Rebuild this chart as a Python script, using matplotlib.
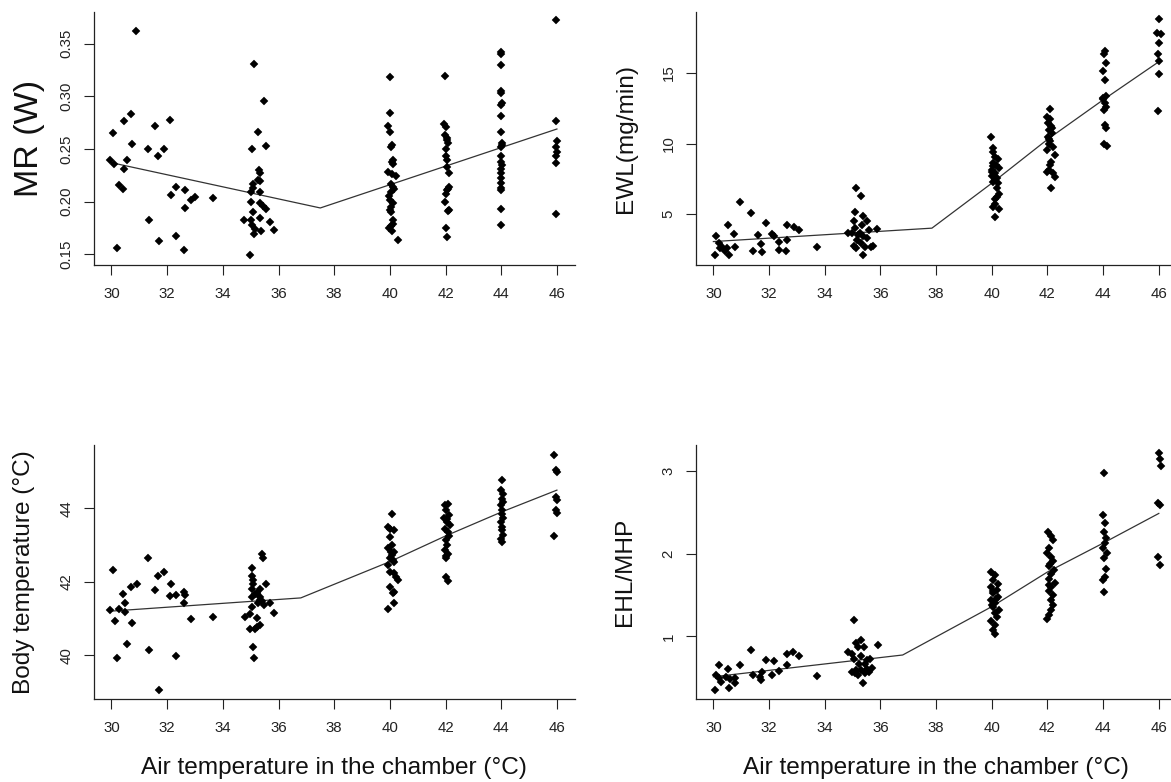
import matplotlib
matplotlib.use('Agg')
import matplotlib.pyplot as plt

plt.rcParams['font.family'] = ['Liberation Sans', 'DejaVu Sans']

# ---- data (x = air temperature in chamber, degC) ----
# metabolic rate
mr_x = [30.89, 30.05, 30.69, 30.46, 30.73, 30.55, 29.96, 30.1, 30.46, 30.26, 30.4, 30.19, 31.3, 31.57,
        31.66, 31.87, 32.1, 31.34, 31.7, 32.14, 32.31, 32.64, 32.63, 32.31, 32.6, 32.84, 32.99, 33.65,
        35.12, 35.48, 35.25, 35.56, 35.04, 34.98, 35.29, 35.32, 35.26, 35.35, 35.1, 35.08, 35.32, 35.0,
        35.01, 35.32, 35.46, 35.55, 35.1, 34.76, 35.0, 35.35, 35.7, 35.04, 35.16, 35.11, 35.37, 35.85,
        40.0, 40.0, 39.95, 40.0, 40.07, 40.04, 40.07, 40.13, 39.95, 40.07, 40.23, 40.04, 40.11, 40.15,
        40.04, 40.01, 40.11, 40.04, 40.04, 40.1, 40.13, 39.98, 40.07, 40.28, 40.1, 39.98, 40.0, 40.05,
        41.99, 41.95, 42.01, 41.99, 42.05, 42.07, 42.02, 42.02, 42.05, 42.05, 42.14, 42.11, 42.05, 42.01,
        41.99, 42.13, 42.07, 42.02, 42.05, 42.05, 42.1,
        43.98, 43.99, 44.0, 43.99, 44.0, 43.99, 43.99, 44.0, 44.01, 44.0, 43.99, 44.0, 44.01, 43.99,
        44.0, 43.98, 43.99, 44.0, 43.99, 43.99, 43.98, 44.03, 44.03,
        45.97, 45.97, 46.0, 45.97, 46.0, 45.97, 45.97, 45.97]
mr_y = [0.362, 0.265, 0.283, 0.277, 0.255, 0.240, 0.240, 0.236, 0.231, 0.216, 0.212, 0.156, 0.250, 0.272,
        0.243, 0.250, 0.278, 0.183, 0.163, 0.206, 0.214, 0.211, 0.194, 0.167, 0.154, 0.202, 0.204, 0.203,
        0.331, 0.296, 0.266, 0.253, 0.250, 0.149, 0.230, 0.227, 0.221, 0.220, 0.217, 0.213, 0.209, 0.209,
        0.200, 0.199, 0.196, 0.193, 0.190, 0.183, 0.183, 0.184, 0.181, 0.178, 0.174, 0.169, 0.172, 0.173,
        0.318, 0.284, 0.272, 0.266, 0.254, 0.252, 0.238, 0.236, 0.228, 0.226, 0.224, 0.217, 0.214, 0.212,
        0.209, 0.202, 0.199, 0.195, 0.190, 0.183, 0.179, 0.175, 0.172, 0.164, 0.240, 0.205, 0.192, 0.177,
        0.319, 0.274, 0.271, 0.263, 0.260, 0.256, 0.250, 0.243, 0.240, 0.233, 0.227, 0.214, 0.211, 0.207,
        0.200, 0.192, 0.191, 0.175, 0.166, 0.2585, 0.212,
        0.342, 0.340, 0.330, 0.305, 0.303, 0.292, 0.281, 0.266, 0.254, 0.252, 0.243, 0.238, 0.235, 0.231,
        0.227, 0.222, 0.218, 0.213, 0.211, 0.193, 0.178, 0.294, 0.2555,
        0.373, 0.277, 0.258, 0.252, 0.2475, 0.243, 0.237, 0.188]
mr_fit_x = [30, 37.5, 46]
mr_fit_y = [0.237, 0.194, 0.269]

# evaporative water loss
ewl_x = [30.05, 30.09, 30.19, 30.23, 30.32, 30.41, 30.49, 30.56, 30.52, 30.76, 30.75, 30.96, 31.36, 31.41,
         31.61, 31.75, 31.72, 31.9, 32.12, 32.16, 32.35, 32.37, 32.62, 32.66, 32.66, 32.9, 33.06, 33.72,
         35.12, 35.3, 35.08, 35.06, 35.39, 35.52, 35.35, 35.08, 34.83, 34.99, 35.19, 35.39, 35.59, 35.88,
         35.16, 35.3, 35.52, 35.06, 35.12, 35.46, 35.72, 35.39, 35.26, 35.66,
         39.97, 40.06, 40.03, 40.13, 40.23, 40.06, 40.15, 40.26, 40.02, 40.13, 40.0, 40.19, 40.06, 40.23,
         40.17, 40.26, 40.19, 40.1, 40.13, 40.03, 40.26, 40.1, 40.0, 40.1, 40.05,
         42.1, 42.0, 42.1, 42.02, 42.13, 42.06, 42.16, 42.02, 42.1, 42.06, 42.2, 42.0, 42.26, 42.13,
         42.1, 42.06, 42.2, 42.26, 42.13, 42.05, 42.15, 42.0,
         44.06, 44.04, 44.1, 44.0, 44.06, 44.1, 44.0, 44.06, 44.04, 44.06, 44.1, 44.04, 44.13, 44.0, 44.1,
         46.0, 45.93, 46.07, 46.0, 45.97, 46.02, 46.0, 45.97]
ewl_y = [2.12, 3.47, 2.95, 2.59, 2.67, 2.43, 2.59, 2.12, 4.25, 2.71, 3.58, 5.87, 5.07, 2.43,
         3.54, 2.31, 2.90, 4.41, 3.61, 3.47, 2.48, 3.07, 2.43, 3.18, 4.22, 4.13, 3.89, 2.67,
         6.84, 6.30, 5.19, 4.53, 4.91, 4.55, 4.22, 4.01, 3.70, 3.66, 3.54, 3.47, 3.89, 3.94,
         3.18, 3.00, 3.30, 2.76, 2.59, 2.67, 2.76, 2.12, 3.66, 2.71,
         10.50, 9.72, 9.43, 9.08, 8.89, 8.66, 8.49, 8.26, 8.14, 7.90, 7.71, 7.55, 7.31, 7.24,
         6.84, 6.44, 6.25, 6.06, 5.73, 5.50, 5.35, 4.83, 8.0, 7.4, 8.4,
         12.43, 11.91, 11.72, 11.49, 11.25, 10.97, 10.73, 10.50, 10.21, 9.98, 9.74, 9.55, 9.20, 8.73,
         8.49, 8.14, 7.90, 7.67, 6.84, 10.35, 11.1, 8.0,
         16.58, 16.34, 15.68, 15.14, 14.50, 13.37, 13.14, 12.85, 12.38, 11.32, 11.13, 9.98, 9.86, 13.2, 12.6,
         18.80, 17.85, 17.76, 17.15, 16.34, 15.87, 14.93, 12.33]
ewl_fit_x = [30, 37.85, 40, 42, 44, 46]
ewl_fit_y = [3.07, 4.02, 7.2, 10.3, 13.1, 15.8]

# body temperature
tb_x = [29.96, 30.07, 30.11, 30.2, 30.27, 30.41, 30.47, 30.47, 30.55, 30.69, 30.73, 30.91, 31.31, 31.34,
        31.56, 31.66, 31.72, 31.87, 32.1, 32.14, 32.31, 32.31, 32.6, 32.6, 32.64, 32.87, 33.65,
        34.78, 35.05, 35.05, 35.08, 35.1, 35.05, 35.14, 35.05, 35.21, 35.32, 35.39, 35.46, 35.56, 35.35,
        35.39, 35.25, 35.48, 35.04, 35.7, 35.85, 34.98, 35.21, 35.32, 34.97, 35.14, 35.08, 35.12, 35.35, 35.21,
        40.08, 39.95, 40.15, 40.02, 40.08, 39.95, 40.15, 40.08, 40.02, 40.15, 39.95, 40.02, 40.15, 40.22,
        40.29, 40.02, 40.15, 40.15, 39.95, 40.05, 40.1, 40.0, 40.1,
        42.09, 41.98, 42.02, 42.12, 41.95, 42.05, 42.16, 41.98, 42.09, 42.12, 42.02, 42.05, 41.98, 42.09,
        42.02, 42.02, 42.09, 42.05, 42.0,
        44.04, 43.98, 44.08, 44.01, 44.08, 43.98, 44.04, 44.01, 44.08, 43.98, 44.04, 44.01, 44.08, 43.98, 44.01,
        45.9, 45.97, 46.01, 45.97, 46.01, 45.97, 46.01, 45.9]
tb_y = [41.23, 42.32, 40.93, 39.91, 41.25, 41.66, 41.41, 41.18, 40.29, 41.85, 40.88, 41.94, 42.64, 40.15,
        41.77, 42.16, 39.05, 42.27, 41.61, 41.94, 41.64, 39.98, 41.73, 41.41, 41.64, 40.98, 41.05,
        41.03, 42.38, 42.15, 42.05, 41.95, 41.79, 41.68, 41.59, 41.7, 41.79, 42.75, 42.64, 41.95, 41.59,
        41.48, 41.41, 41.36, 41.32, 41.43, 41.14, 41.11, 41.0, 40.82, 40.71, 40.71, 40.23, 39.91, 41.5, 40.77,
        43.86, 43.5, 43.41, 43.23, 43.0, 42.91, 42.82, 42.73, 42.64, 42.55, 42.45, 42.27, 42.23, 42.14,
        42.06, 41.86, 41.73, 41.43, 41.25, 42.8, 42.6, 43.45, 41.7,
        44.12, 44.09, 43.95, 43.82, 43.73, 43.64, 43.55, 43.45, 43.36, 43.25, 43.14, 43.0, 42.86, 42.77,
        42.64, 42.14, 42.03, 43.7, 42.7,
        44.77, 44.5, 44.39, 44.27, 44.18, 44.09, 43.97, 43.86, 43.75, 43.64, 43.5, 43.41, 43.27, 43.18, 43.09,
        45.47, 45.06, 45.0, 44.32, 44.23, 43.95, 43.88, 43.25]
tb_fit_x = [30, 36.8, 40, 42, 44, 46]
tb_fit_y = [41.2, 41.56, 42.55, 43.25, 43.9, 44.5]

# evaporative heat loss / metabolic heat production
ehl_x = [30.05, 30.09, 30.21, 30.19, 30.28, 30.45, 30.52, 30.55, 30.59, 30.79, 30.76, 30.96, 31.36, 31.41,
         31.68, 31.72, 31.75, 31.9, 32.12, 32.16, 32.35, 32.63, 32.66, 32.86, 33.06, 33.72,
         35.06, 34.82, 35.3, 35.12, 35.19, 35.42, 35.9, 34.99, 35.32, 35.06, 35.52, 35.62, 35.22, 35.44,
         34.99, 35.12, 35.32, 35.52, 35.7, 35.19, 35.44, 35.39, 35.08, 35.59,
         39.99, 40.13, 40.06, 40.23, 39.99, 40.17, 40.06, 40.23, 39.99, 40.13, 40.06, 40.26, 40.1, 40.19,
         39.99, 40.13, 40.03, 40.1, 40.05, 40.15, 40.0,
         42.02, 42.13, 42.2, 42.06, 42.0, 42.13, 42.2, 42.06, 42.24, 42.13, 42.06, 42.26, 42.13, 42.06,
         42.2, 42.13, 42.2, 42.13, 42.06, 42.0, 42.1, 42.05,
         44.04, 44.0, 44.06, 44.04, 44.1, 44.06, 44.0, 44.13, 44.04, 44.1, 44.06, 44.0, 44.04,
         46.0, 46.03, 46.07, 45.96, 46.03, 45.96, 46.03]
ehl_y = [0.35, 0.53, 0.65, 0.49, 0.45, 0.51, 0.61, 0.37, 0.48, 0.50, 0.43, 0.65, 0.83, 0.53,
         0.51, 0.47, 0.57, 0.71, 0.53, 0.70, 0.58, 0.65, 0.79, 0.81, 0.76, 0.52,
         1.20, 0.81, 0.96, 0.92, 0.87, 0.87, 0.90, 0.79, 0.76, 0.73, 0.71, 0.73, 0.67, 0.67,
         0.57, 0.59, 0.59, 0.61, 0.62, 0.53, 0.55, 0.44, 0.55, 0.57,
         1.78, 1.74, 1.68, 1.63, 1.60, 1.56, 1.52, 1.48, 1.44, 1.40, 1.36, 1.32, 1.28, 1.24,
         1.18, 1.14, 1.08, 1.03, 1.55, 1.45, 1.38,
         2.27, 2.22, 2.17, 2.07, 2.01, 1.96, 1.91, 1.85, 1.80, 1.76, 1.70, 1.65, 1.60, 1.55,
         1.50, 1.44, 1.38, 1.32, 1.26, 1.21, 1.88, 1.62,
         2.98, 2.47, 2.37, 2.27, 2.19, 2.13, 2.07, 2.01, 1.95, 1.82, 1.72, 1.68, 1.54,
         3.22, 3.15, 3.06, 2.62, 2.59, 1.96, 1.86]
ehl_fit_x = [30, 36.8, 40, 42, 44, 46]
ehl_fit_y = [0.51, 0.774, 1.36, 1.78, 2.13, 2.49]

x_ticks = [30, 32, 34, 36, 38, 40, 42, 44, 46]
xlim = (29.36, 46.64)
xlabel = 'Air temperature in the chamber (°C)'


def draw_panel(ax, x, y, fit_x, fit_y, yticks, ytick_labels, ylim, ylabel, ylabel_size, ylabel_x):
    ax.plot(x, y, linestyle='none', marker='D', markersize=4.1, color='black',
            markeredgewidth=0.3, markeredgecolor='black', zorder=3)
    ax.plot(fit_x, fit_y, color='#333333', linewidth=0.9, zorder=2)

    ax.set_xlim(*xlim)
    ax.set_ylim(*ylim)
    ax.set_xticks(x_ticks)
    ax.set_yticks(yticks)
    ax.set_yticklabels(ytick_labels)

    # R style: just the left and bottom axis lines
    for side in ('top', 'right'):
        ax.spines[side].set_visible(False)
    for side in ('left', 'bottom'):
        ax.spines[side].set_linewidth(0.9)
        ax.spines[side].set_color('#222222')

    ax.tick_params(axis='both', direction='out', length=7.5, width=0.8, color='#222222',
                   labelsize=10.8, labelcolor='#222222')
    ax.tick_params(axis='x', pad=8.5)
    ax.tick_params(axis='y', pad=7)
    for lab in ax.get_yticklabels():
        lab.set_rotation(90)
        lab.set_va('center')

    ax.set_ylabel(ylabel, fontsize=ylabel_size, color='#111111')
    ax.yaxis.set_label_coords(ylabel_x, 0.5)


fig = plt.figure(figsize=(11.71, 7.82), dpi=100)

ax_w = 0.4108
ax1 = fig.add_axes([0.0800, 0.6611, ax_w, 0.3239])
ax2 = fig.add_axes([0.5940, 0.6611, ax_w, 0.3239])
ax3 = fig.add_axes([0.0800, 0.1065, ax_w, 0.3244])
ax4 = fig.add_axes([0.5940, 0.1065, ax_w, 0.3244])

draw_panel(ax1, mr_x, mr_y, mr_fit_x, mr_fit_y,
           [0.15, 0.20, 0.25, 0.30, 0.35], ['0.15', '0.20', '0.25', '0.30', '0.35'],
           (0.1398, 0.3804), 'MR (W)', 24.5, -0.102)
draw_panel(ax2, ewl_x, ewl_y, ewl_fit_x, ewl_fit_y,
           [5, 10, 15], ['5', '10', '15'],
           (1.41, 19.34), 'EWL(mg/min)', 17.6, -0.122)
draw_panel(ax3, tb_x, tb_y, tb_fit_x, tb_fit_y,
           [40, 42, 44], ['40', '42', '44'],
           (38.81, 45.73), 'Body temperature (°C)', 17.6, -0.121)
draw_panel(ax4, ehl_x, ehl_y, ehl_fit_x, ehl_fit_y,
           [1, 2, 3], ['1', '2', '3'],
           (0.244, 3.319), 'EHL/MHP', 17.6, -0.123)

for ax in (ax3, ax4):
    ax.set_xlabel(xlabel, fontsize=17.6, color='#111111')
    ax.xaxis.set_label_coords(0.5, -0.23)

fig.savefig('out.png', dpi=100)
